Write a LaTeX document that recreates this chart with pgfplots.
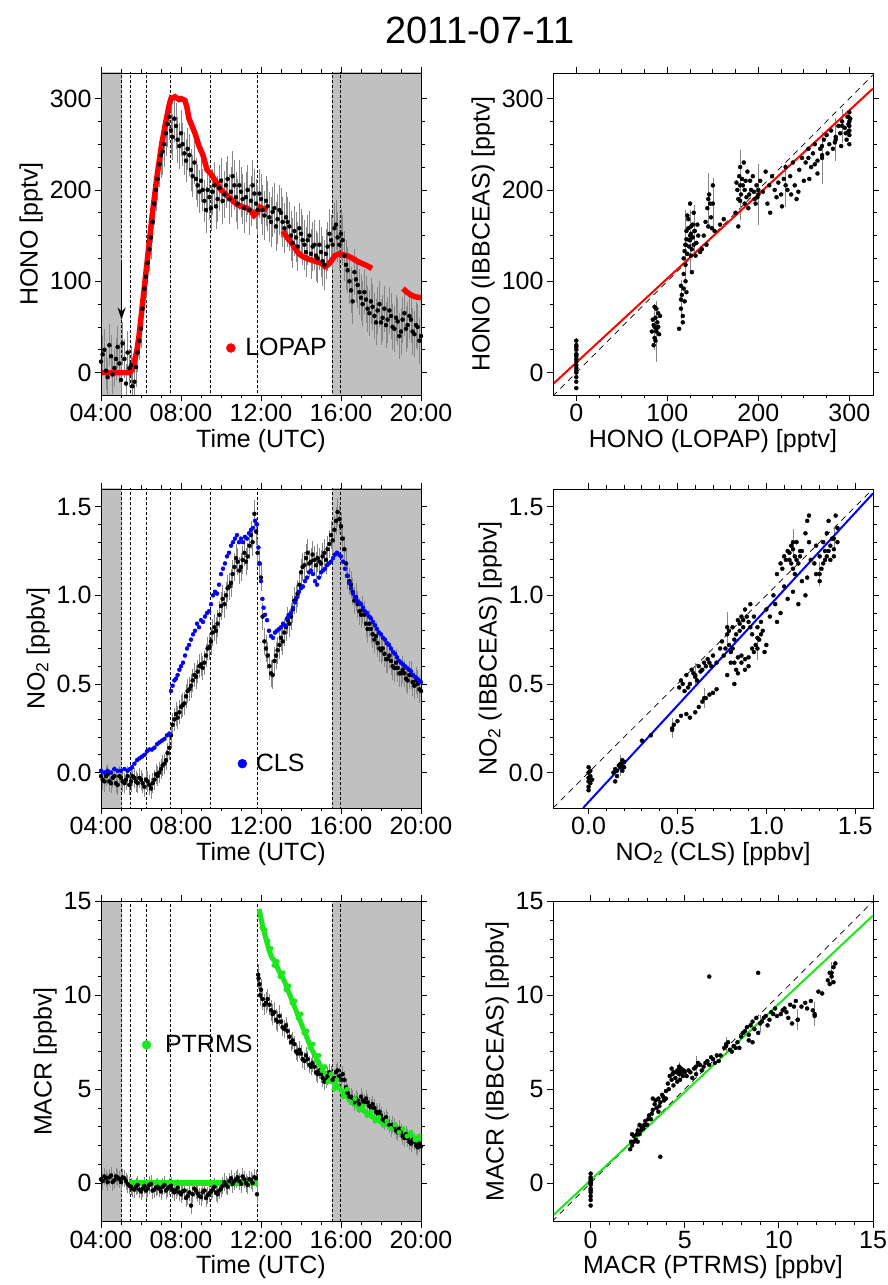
\documentclass[border=0pt]{standalone}
\usepackage{fontspec}
\setmainfont{Liberation Sans}
\usepackage{pgfplots}
\pgfplotsset{compat=1.18}
\usetikzlibrary{arrows.meta}

\definecolor{bggray}{RGB}{192,192,192}
\definecolor{ebgray}{RGB}{135,135,135}
\definecolor{lred}{RGB}{255,0,0}
\definecolor{lblue}{RGB}{0,0,255}
\definecolor{lgreen}{RGB}{30,230,30}

\newcommand{\lfont}{\fontsize{25}{30}\selectfont}
\tikzset{vl/.style={densely dashed, line width=0.5pt, black}}

\pgfplotsset{
 base/.style={scale only axis, width=320pt, axis on top, tick align=outside,
   tick label style={font=\lfont}, label style={font=\lfont},
   /pgf/number format/assume math mode=true,
   major tick length=6pt, minor tick length=3.5pt,
   every tick/.style={black, line width=0.8pt}, axis line style={line width=0.9pt},
   legend style={draw=none, fill=none, font=\lfont, inner sep=0pt, anchor=west},
 },
 tser/.style={base, xmin=4, xmax=20, xtick={4,8,12,16,20},
   xticklabels={04:00,08:00,12:00,16:00,20:00}, minor x tick num=3, xlabel={Time (UTC)}},
 blk/.style={only marks, mark=*, mark size=2pt, black, forget plot,
   error bars/.cd, y dir=both, y explicit,
   error bar style={ebgray, line width=0.6pt},
   error mark=-, error mark options={ebgray, mark size=3pt, line width=0.6pt}},
 sc/.style={only marks, mark=*, mark size=2pt, black, forget plot},
 dashln/.style={dashed, line width=0.7pt, black, forget plot},
}

\begin{document}
\begin{tikzpicture}[x=1pt,y=1pt]
\useasboundingbox (0,0) rectangle (887,1285);
\node[font=\fontsize{38}{42}\selectfont] at (480,1255) {2011-07-11};

%================ HONO time series
\begin{axis}[tser, at={(101pt,890pt)}, anchor=south west, height=322pt,
  ymin=-24.5, ymax=328, ytick={0,100,200,300}, minor y tick num=3,
  ylabel={HONO [pptv]},
  legend style={at={(0.391,0.146)}}]
\fill[bggray] (axis cs:3,-50) rectangle (axis cs:5.03,400);
\fill[bggray] (axis cs:15.55,-50) rectangle (axis cs:21,400);
\foreach \t in {5.03,5.45,6.25,7.48,9.45,11.82,15.55,15.95}{
  \edef\tmp{\noexpand\draw[vl] (axis cs:\t,-50) -- (axis cs:\t,400);}\tmp}
\addplot[blk] table[x index=0,y index=1,y error index=2] {
4.00 12 18
4.17 25 20
4.33 -5 18
4.50 18 20
4.67 5 18
4.83 28 20
5.00 -8 20
5.17 15 18
5.33 22 20
5.50 8 18
5.67 -10 18
5.83 22 18
6.00 48 18
6.17 92 18
6.33 120 20
6.50 148 20
6.67 185 20
6.83 212 20
7.00 238 22
7.17 250 22
7.33 272 22
7.50 265 22
7.67 278 22
7.83 255 22
8.00 262 22
8.17 240 20
8.33 245 20
8.50 222 20
8.67 230 20
8.83 205 20
9.00 210 20
9.17 188 20
9.33 200 22
9.50 180 22
9.67 205 22
9.83 190 22
10.00 210 22
10.17 195 22
10.33 212 22
10.50 198 24
10.67 205 24
10.83 185 24
11.00 198 24
11.17 180 24
11.33 200 24
11.50 188 24
11.67 196 24
11.83 178 24
12.00 190 24
12.17 172 24
12.33 182 24
12.50 165 24
12.67 180 24
12.83 168 24
13.00 175 24
13.17 158 24
13.33 165 24
13.50 150 24
13.67 155 24
13.83 138 24
14.00 152 24
14.17 140 24
14.33 145 24
14.50 130 24
14.67 140 24
14.83 125 24
15.00 132 24
15.17 118 24
15.33 138 24
15.50 145 24
15.67 158 24
15.83 148 24
16.00 152 24
16.17 128 24
16.33 112 22
16.50 90 22
16.67 110 22
16.83 96 22
17.00 82 22
17.17 88 22
17.33 70 22
17.50 78 22
17.67 62 22
17.83 68 22
18.00 55 22
18.17 70 22
18.33 58 22
18.50 62 22
18.67 48 22
18.83 56 22
19.00 45 22
19.17 65 22
19.33 52 22
19.50 58 22
19.67 42 22
19.83 50 22
20.00 40 22
};
\addplot[blk] table[x index=0,y index=1,y error index=2] {
4.08 20 18
4.25 2 18
4.42 30 20
4.58 -2 18
4.75 15 20
4.92 10 18
5.08 32 20
5.25 -12 18
5.42 5 18
5.58 -15 18
5.75 6 18
5.92 35 18
6.08 70 18
6.25 105 20
6.42 135 20
6.58 165 20
6.75 200 20
6.92 228 22
7.08 242 22
7.25 262 22
7.42 280 22
7.58 258 22
7.75 270 22
7.92 248 22
8.08 250 20
8.25 232 20
8.42 238 20
8.58 215 20
8.75 212 20
8.92 198 20
9.08 200 20
9.25 178 22
9.42 192 22
9.58 198 22
9.75 182 22
9.92 202 22
10.08 188 22
10.25 205 22
10.42 190 24
10.58 215 24
10.75 192 24
10.92 205 24
11.08 190 24
11.25 192 24
11.42 178 24
11.58 205 24
11.75 185 24
11.92 196 24
12.08 178 24
12.25 188 24
12.42 170 24
12.58 176 24
12.75 160 24
12.92 178 24
13.08 165 24
13.25 170 24
13.42 160 24
13.58 142 24
13.75 148 24
13.92 158 24
14.08 145 24
14.25 132 24
14.42 150 24
14.58 138 24
14.75 128 24
14.92 140 24
15.08 122 24
15.25 130 24
15.42 152 24
15.58 140 24
15.75 162 24
15.92 140 24
16.08 145 24
16.25 118 24
16.42 100 22
16.58 78 22
16.75 102 22
16.92 88 22
17.08 75 22
17.25 80 22
17.42 65 22
17.58 72 22
17.75 55 22
17.92 75 22
18.08 60 22
18.25 52 22
18.42 68 22
18.58 50 22
18.75 60 22
18.92 40 22
19.08 58 22
19.25 48 22
19.42 62 22
19.58 45 22
19.75 52 22
19.92 35 22
};
\addplot[lred, line width=5.5pt, forget plot] coordinates {
(4.00,0) (5.45,0) (5.55,3) (5.65,10) (5.8,25) (5.9,40) (6.1,80) (6.25,110) (6.4,140)
(6.6,180) (6.8,215) (7.0,245) (7.2,270) (7.4,292) (7.5,300) (7.7,302) (7.9,299) (8.0,300)
(8.2,298) (8.3,290) (8.4,278) (8.55,270) (8.7,262) (8.9,248) (9.1,238) (9.2,230) (9.3,222)
(9.45,219) (9.6,214) (9.8,207) (10.0,200) (10.2,196) (10.4,192) (10.6,188) (10.8,184)
(11.0,182) (11.3,180) (11.5,177) (11.65,172) (11.8,175) (11.95,181) (12.15,179) (12.3,178)};
\addplot[lred, line width=5.5pt, forget plot] coordinates {
(13.1,155) (13.3,148) (13.5,143) (13.7,136) (13.9,130) (14.1,127) (14.4,124) (14.7,122)
(15.0,120) (15.2,116) (15.35,118) (15.5,122) (15.7,128) (15.9,130) (16.1,129) (16.3,128)
(16.5,126) (16.8,122) (17.1,119) (17.3,117) (17.55,114)};
\addplot[lred, line width=5.5pt, forget plot] coordinates {
(19.1,92) (19.3,88) (19.5,85) (19.7,83) (20.0,82)};
\draw[-{Stealth[length=12pt,width=8pt]}, line width=1.6pt] (axis cs:5.03,120) -- (axis cs:5.03,58);
\addlegendimage{only marks, mark=*, mark size=4.5pt, lred}
\addlegendentry{\hspace{8pt}LOPAP}
\end{axis}

%================ HONO scatter
\begin{axis}[base, at={(553pt,890pt)}, anchor=south west, height=322pt,
  xmin=-25.6, xmax=326, ymin=-24.5, ymax=328,
  xtick={0,100,200,300}, ytick={0,100,200,300}, minor x tick num=3, minor y tick num=3,
  xlabel={HONO (LOPAP) [pptv]}, ylabel={HONO (IBBCEAS) [pptv]}]
\addplot[dashln, dash pattern=on 6pt off 5pt] coordinates {(-26,-26) (326,326)};
\addplot[blk] table[x index=0,y index=1,y error index=2] {
0 20 15
86 50 22
88 45 30
120 140 35
125 145 30
130 155 25
145 190 25
180 205 35
200 195 30
230 205 20
270 235 25
285 255 20
292 270 15
115 80 18
150 185 25
};
\addplot[sc] coordinates {
(0,-17)(0,-5)(0,2)(0,8)(0,12)(0,15)(0,20)(0,25)(0,30)(0,35)(0,5)(0,18)(0,28)(0,-10)(0,0)
(83,45)(85,52)(86,38)(87,60)(88,48)(89,55)(90,65)(91,42)(85,30)(88,70)(90,50)(84,58)(87,35)(92,62)(86,72)
(113,48)(115,70)(116,85)(117,62)(118,92)(119,78)(120,100)(117,55)(121,88)(115,95)
(118,125)(120,140)(121,155)(122,130)(123,168)(124,145)(125,150)(126,160)(127,135)(128,148)
(129,175)(130,155)(132,142)(133,162)(120,118)(125,185)(131,128)(134,150)(136,132)(127,110)
(140,150)(142,165)(144,180)(145,160)(146,195)(148,170)(150,205)(143,140)(147,185)(149,158)
(138,135)(152,155)(158,162)(162,168)
(175,175)(177,200)(178,190)(179,215)(180,225)(181,195)(183,205)(185,185)(186,210)(188,220)
(190,195)(192,200)(194,215)(196,190)(198,205)(200,200)(178,160)(184,230)(189,180)(197,185)
(202,210)(205,198)(208,220)(210,185)(212,205)(215,215)(218,200)(220,192)(222,208)(225,195)
(228,212)(230,225)(232,200)(235,215)(238,230)(240,205)(242,190)(245,222)(248,235)(250,210)
(213,175)(226,182)(236,195)(244,198)
(252,230)(255,245)(258,225)(260,240)(262,250)(265,232)(268,245)(270,238)(272,255)(275,260)
(278,250)(280,265)(282,245)(285,258)(288,270)(290,262)(292,275)(295,268)(298,280)(300,260)
(300,285)(300,250)(299,272)(297,255)(265,218)(256,212)(300,270)(301,278)(299,264)
(122,172)(124,138)(126,152)(128,162)(119,133)(121,146)(123,158)(126,128)(129,140)(118,108)
(182,212)(185,200)(187,192)(180,188)(176,208)(191,210)(195,198)(199,192)
(255,235)(262,228)(270,248)(276,240)(284,252)(291,248)(296,262)(300,275)(300,265)(299,280)
};
\addplot[lred, line width=2pt, forget plot] coordinates {(-26,-12.9) (326,311)};
\end{axis}

%================ NO2 time series
\begin{axis}[tser, at={(101pt,477pt)}, anchor=south west, height=319pt,
  ymin=-0.2, ymax=1.6, ytick={0,0.5,1,1.5}, minor y tick num=4,
  yticklabel style={/pgf/number format/.cd, fixed, fixed zerofill, precision=1},
  ylabel={NO\textsubscript{2} [ppbv]},
  legend style={at={(0.427,0.139)}}]
\fill[bggray] (axis cs:3,-1) rectangle (axis cs:5.03,2);
\fill[bggray] (axis cs:15.55,-1) rectangle (axis cs:21,2);
\foreach \t in {5.03,5.45,6.25,7.48,9.45,11.82,15.55,15.95}{
  \edef\tmp{\noexpand\draw[vl] (axis cs:\t,-1) -- (axis cs:\t,2);}\tmp}
\addplot[blk] table[x index=0,y index=1,y error index=2] {
4.00 -0.02 0.04
4.17 -0.05 0.04
4.33 -0.01 0.04
4.50 -0.06 0.04
4.67 -0.02 0.04
4.83 -0.07 0.04
5.00 -0.03 0.04
5.17 -0.06 0.04
5.33 -0.02 0.04
5.50 -0.05 0.04
5.67 -0.03 0.04
5.83 -0.06 0.04
6.00 -0.04 0.04
6.17 -0.08 0.04
6.33 -0.05 0.04
6.50 -0.09 0.04
6.67 -0.04 0.04
6.83 -0.02 0.04
7.00 0.02 0.04
7.17 0.05 0.04
7.33 0.11 0.04
7.50 0.21 0.05
7.67 0.30 0.05
7.83 0.31 0.05
8.00 0.37 0.05
8.17 0.39 0.05
8.33 0.46 0.05
8.50 0.49 0.05
8.67 0.55 0.05
8.83 0.57 0.05
9.00 0.61 0.05
9.17 0.62 0.05
9.33 0.70 0.05
9.50 0.74 0.06
9.67 0.82 0.06
9.83 0.84 0.06
10.00 0.94 0.06
10.17 0.95 0.06
10.33 1.04 0.06
10.50 1.07 0.06
10.67 1.16 0.06
10.83 1.19 0.06
11.00 1.16 0.06
11.17 1.24 0.06
11.33 1.22 0.06
11.50 1.34 0.06
11.67 1.46 0.06
11.83 1.24 0.06
12.00 1.10 0.06
12.17 0.74 0.06
12.33 0.66 0.06
12.50 0.56 0.06
12.67 0.63 0.06
12.83 0.69 0.06
13.00 0.76 0.06
13.17 0.79 0.06
13.33 0.86 0.06
13.50 0.88 0.06
13.67 0.97 0.06
13.83 1.01 0.06
14.00 1.13 0.06
14.17 1.17 0.06
14.33 1.24 0.06
14.50 1.19 0.06
14.67 1.20 0.06
14.83 1.21 0.06
15.00 1.18 0.06
15.17 1.24 0.06
15.33 1.26 0.06
15.50 1.34 0.06
15.67 1.37 0.06
15.83 1.47 0.06
16.00 1.39 0.06
16.17 1.26 0.06
16.33 1.11 0.06
16.50 1.06 0.06
16.67 0.97 0.06
16.83 0.95 0.06
17.00 0.89 0.06
17.17 0.89 0.06
17.33 0.81 0.06
17.50 0.81 0.06
17.67 0.75 0.06
17.83 0.73 0.06
18.00 0.69 0.06
18.17 0.67 0.06
18.33 0.64 0.06
18.50 0.63 0.06
18.67 0.59 0.06
18.83 0.59 0.06
19.00 0.56 0.06
19.17 0.56 0.06
19.33 0.52 0.06
19.50 0.55 0.06
19.67 0.49 0.06
19.83 0.50 0.06
20.00 0.46 0.06
};
\addplot[blk] table[x index=0,y index=1,y error index=2] {
4.08 -0.04 0.04
4.25 -0.02 0.04
4.42 -0.05 0.04
4.58 -0.03 0.04
4.75 -0.06 0.04
4.92 -0.02 0.04
5.08 -0.05 0.04
5.25 -0.04 0.04
5.42 -0.07 0.04
5.58 -0.02 0.04
5.75 -0.05 0.04
5.92 -0.03 0.04
6.08 -0.06 0.04
6.25 -0.04 0.04
6.42 -0.07 0.04
6.58 -0.06 0.04
6.75 -0.01 0.04
6.92 0.00 0.04
7.08 0.04 0.04
7.25 0.07 0.04
7.42 0.14 0.05
7.58 0.27 0.05
7.75 0.33 0.05
7.92 0.34 0.05
8.08 0.38 0.05
8.25 0.43 0.05
8.42 0.47 0.05
8.58 0.52 0.05
8.75 0.54 0.05
8.92 0.60 0.05
9.08 0.59 0.05
9.25 0.66 0.05
9.42 0.71 0.06
9.58 0.79 0.06
9.75 0.80 0.06
9.92 0.89 0.06
10.08 0.98 0.06
10.25 1.00 0.06
10.42 1.05 0.06
10.58 1.12 0.06
10.75 1.21 0.06
10.92 1.14 0.06
11.08 1.20 0.06
11.25 1.19 0.06
11.42 1.28 0.06
11.58 1.30 0.06
11.75 1.36 0.06
11.92 1.18 0.06
12.08 0.88 0.06
12.25 0.70 0.06
12.42 0.60 0.06
12.58 0.55 0.06
12.75 0.66 0.06
12.92 0.72 0.06
13.08 0.74 0.06
13.25 0.82 0.06
13.42 0.84 0.06
13.58 0.92 0.06
13.75 0.98 0.06
13.92 1.06 0.06
14.08 1.16 0.06
14.25 1.21 0.06
14.42 1.18 0.06
14.58 1.23 0.06
14.75 1.17 0.06
14.92 1.19 0.06
15.08 1.22 0.06
15.25 1.20 0.06
15.42 1.29 0.06
15.58 1.31 0.06
15.75 1.42 0.06
15.92 1.43 0.06
16.08 1.32 0.06
16.25 1.18 0.06
16.42 1.08 0.06
16.58 1.02 0.06
16.75 0.99 0.06
16.92 0.91 0.06
17.08 0.92 0.06
17.25 0.84 0.06
17.42 0.84 0.06
17.58 0.78 0.06
17.75 0.77 0.06
17.92 0.70 0.06
18.08 0.70 0.06
18.25 0.64 0.06
18.42 0.66 0.06
18.58 0.60 0.06
18.75 0.62 0.06
18.92 0.56 0.06
19.08 0.58 0.06
19.25 0.53 0.06
19.42 0.55 0.06
19.58 0.51 0.06
19.75 0.52 0.06
19.92 0.47 0.06
};
\addplot[only marks, mark=*, mark size=2pt, lblue, forget plot] coordinates {
(4.00,0.01)(4.17,0.0)(4.33,0.01)(4.50,0.0)(4.67,0.02)(4.83,0.01)(5.00,0.01)(5.17,0.02)(5.33,0.01)
(5.45,0.02)(5.55,0.03)(5.67,0.05)(5.8,0.07)(5.92,0.08)(6.05,0.09)(6.17,0.1)(6.3,0.12)(6.42,0.13)
(6.55,0.13)(6.67,0.14)(6.8,0.16)(6.92,0.17)(7.05,0.18)(7.17,0.19)(7.3,0.21)(7.42,0.22)(7.5,0.46)
(7.58,0.49)(7.67,0.52)(7.75,0.53)(7.83,0.55)(7.92,0.58)(8.0,0.60)(8.1,0.62)(8.2,0.66)(8.3,0.70)
(8.4,0.72)(8.5,0.75)(8.6,0.78)(8.7,0.80)(8.8,0.84)(8.9,0.82)(9.0,0.86)(9.1,0.85)(9.2,0.88)
(9.3,0.90)(9.4,0.91)(9.5,0.95)(9.6,1.0)(9.7,1.02)(9.8,1.01)(9.9,1.06)(10.0,1.12)(10.1,1.15)
(10.2,1.18)(10.3,1.22)(10.4,1.24)(10.5,1.28)(10.6,1.30)(10.7,1.32)(10.8,1.34)(10.9,1.30)
(11.0,1.32)(11.1,1.30)(11.2,1.33)(11.3,1.32)(11.4,1.35)(11.5,1.37)(11.6,1.38)(11.7,1.42)
(11.8,1.40)(11.87,1.27)(11.93,1.18)(12.0,1.08)(12.07,0.98)(12.13,0.93)(12.2,0.89)(12.3,0.86)
(12.4,0.80)(12.5,0.77)(12.6,0.76)(12.7,0.79)(12.8,0.80)(12.9,0.81)(13.0,0.82)(13.1,0.84)
(13.2,0.83)(13.3,0.87)(13.4,0.89)(13.5,0.90)(13.6,0.93)(13.7,0.96)(13.8,0.99)(13.9,1.02)
(14.0,1.04)(14.1,1.05)(14.2,1.08)(14.3,1.10)(14.4,1.13)(14.5,1.14)(14.6,1.12)(14.7,1.08)
(14.8,1.06)(14.9,1.10)(15.0,1.13)(15.1,1.14)(15.2,1.15)(15.3,1.17)(15.4,1.18)(15.5,1.19)
(15.6,1.21)(15.7,1.23)(15.8,1.24)(15.9,1.23)(16.0,1.22)(16.1,1.19)(16.2,1.15)(16.3,1.11)
(16.4,1.07)(16.5,1.04)(16.6,1.01)(16.7,0.99)(16.8,0.97)(16.9,0.96)(17.0,0.95)(17.1,0.93)
(17.2,0.91)(17.3,0.90)(17.4,0.88)(17.5,0.87)(17.6,0.85)(17.7,0.83)(17.8,0.81)(17.9,0.79)
(18.0,0.78)(18.1,0.76)(18.2,0.75)(18.3,0.73)(18.4,0.72)(18.5,0.70)(18.6,0.68)(18.7,0.67)
(18.8,0.65)(18.9,0.63)(19.0,0.62)(19.1,0.61)(19.2,0.60)(19.3,0.59)(19.4,0.58)(19.5,0.57)
(19.6,0.55)(19.7,0.54)(19.8,0.53)(19.9,0.52)(20.0,0.51)};
\addlegendimage{only marks, mark=*, mark size=4.5pt, lblue}
\addlegendentry{\hspace{7pt}CLS}
\end{axis}

%================ NO2 scatter
\begin{axis}[base, at={(553pt,477pt)}, anchor=south west, height=319pt,
  xmin=-0.2, xmax=1.6, ymin=-0.2, ymax=1.6,
  xtick={0,0.5,1,1.5}, ytick={0,0.5,1,1.5}, minor x tick num=4, minor y tick num=4,
  xticklabel style={/pgf/number format/.cd, fixed, fixed zerofill, precision=1},
  yticklabel style={/pgf/number format/.cd, fixed, fixed zerofill, precision=1},
  xlabel={NO\textsubscript{2} (CLS) [ppbv]}, ylabel={NO\textsubscript{2} (IBBCEAS) [ppbv]}]
\addplot[dashln, dash pattern=on 6pt off 5pt] coordinates {(-0.2,-0.2) (1.6,1.6)};
\addplot[blk] table[x index=0,y index=1,y error index=2] {
0.47 0.25 0.04
0.60 0.55 0.05
0.78 0.82 0.07
0.95 0.70 0.05
1.15 1.30 0.06
1.30 1.12 0.05
0.65 0.42 0.04
1.38 1.32 0.05
0.18 0.04 0.04
};
\addplot[sc] coordinates {
(0,-0.08)(0,-0.05)(0,-0.03)(0,0.0)(0,0.03)(0.01,-0.06)(0.01,-0.02)(0.01,0.01)(0.02,-0.04)(0.0,-0.1)
(0.14,0.0)(0.15,0.02)(0.16,-0.02)(0.17,0.04)(0.18,0.05)(0.19,0.07)(0.2,0.06)(0.16,0.01)(0.18,0.03)
(0.15,-0.05)(0.2,0.03)(0.19,0.01)(0.35,0.21)(0.3,0.18)
(0.47,0.24)(0.48,0.27)(0.5,0.29)(0.52,0.32)(0.55,0.33)(0.57,0.31)(0.6,0.34)(0.62,0.37)(0.64,0.40)
(0.66,0.42)(0.68,0.44)(0.7,0.45)(0.72,0.47)
(0.51,0.48)(0.52,0.52)(0.54,0.46)(0.55,0.55)(0.57,0.50)(0.58,0.58)(0.6,0.54)(0.62,0.60)(0.63,0.57)
(0.65,0.62)(0.67,0.64)(0.69,0.60)(0.7,0.66)
(0.72,0.62)(0.74,0.70)(0.75,0.74)(0.76,0.66)(0.78,0.78)(0.79,0.72)(0.8,0.68)(0.81,0.82)(0.82,0.75)
(0.83,0.58)(0.84,0.86)(0.85,0.80)(0.78,0.55)(0.8,0.62)(0.82,0.5)(0.86,0.62)(0.88,0.58)(0.84,0.65)
(0.86,0.88)(0.87,0.82)(0.88,0.92)(0.9,0.85)(0.91,0.95)(0.92,0.78)(0.93,0.88)(0.94,0.72)(0.95,0.82)
(0.9,0.65)(0.93,0.68)
(0.96,0.75)(0.97,0.85)(0.98,0.80)(1.0,0.92)(1.02,0.88)(1.04,1.0)(1.05,0.95)(1.0,0.72)(0.99,0.68)
(1.06,1.12)(1.08,1.18)(1.1,1.22)(1.12,1.25)(1.13,1.2)(1.14,1.28)(1.15,1.15)(1.16,1.22)(1.17,1.3)
(1.18,1.18)(1.19,1.25)(1.1,1.05)(1.12,0.98)(1.15,1.02)(1.18,0.95)(1.2,1.08)(1.2,1.25)(1.08,0.9)(1.06,0.85)
(1.22,1.35)(1.23,1.42)(1.24,1.45)(1.24,1.3)(1.25,1.2)(1.22,1.0)(1.23,1.1)
(1.27,1.18)(1.28,1.12)(1.3,1.22)(1.31,1.15)(1.32,1.3)(1.33,1.2)(1.34,1.35)(1.35,1.25)(1.36,1.28)
(1.37,1.32)(1.38,1.22)(1.4,1.3)(1.39,1.45)(1.4,1.38)(1.35,1.42)(1.3,1.08)(1.28,1.28)
(0.53,0.50)(0.56,0.48)(0.59,0.56)(0.61,0.52)(0.64,0.58)(0.66,0.60)(0.68,0.62)
(0.77,0.70)(0.79,0.80)(0.81,0.70)(0.83,0.78)(0.85,0.84)(0.87,0.86)(0.89,0.88)(0.91,0.82)
(0.82,0.62)(0.84,0.56)(0.86,0.66)(0.88,0.64)(0.9,0.60)(0.92,0.70)(0.95,0.76)(0.97,0.78)
(1.09,1.15)(1.11,1.2)(1.13,1.24)(1.15,1.26)(1.17,1.2)(1.19,1.22)(1.14,1.18)(1.16,1.12)
(1.32,1.18)(1.34,1.22)(1.36,1.2)(1.38,1.26)(1.33,1.25)
};
\addplot[lblue, line width=2pt, forget plot] coordinates {(-0.031,-0.2) (1.6,1.575)};
\end{axis}

%================ MACR time series
\begin{axis}[tser, at={(101pt,63.5pt)}, anchor=south west, height=320pt,
  ymin=-2.05, ymax=15, ytick={0,5,10,15}, minor y tick num=4,
  ylabel={MACR [ppbv]},
  legend style={at={(0.1275,0.552)}}]
\fill[bggray] (axis cs:3,-5) rectangle (axis cs:5.03,20);
\fill[bggray] (axis cs:15.55,-5) rectangle (axis cs:21,20);
\foreach \t in {5.03,5.45,6.25,7.48,9.45,11.82,15.55,15.95}{
  \edef\tmp{\noexpand\draw[vl] (axis cs:\t,-5) -- (axis cs:\t,20);}\tmp}
\addplot[blk] table[x index=0,y index=1,y error index=2] {
4.00 0.2 0.3
4.17 0.35 0.3
4.33 0.05 0.3
4.50 0.4 0.3
4.67 0.15 0.3
4.83 0.3 0.3
5.00 0.05 0.3
5.17 0.25 0.3
5.33 -0.05 0.3
5.50 -0.2 0.3
5.67 -0.35 0.3
5.83 -0.1 0.3
6.00 -0.45 0.3
6.17 -0.15 0.3
6.33 -0.3 0.3
6.50 -0.05 0.3
6.67 -0.35 0.3
6.83 -0.2 0.3
7.00 -0.45 0.3
7.17 -0.1 0.3
7.33 -0.3 0.3
7.50 -0.15 0.3
7.67 -0.5 0.3
7.83 -0.25 0.3
8.00 -0.6 0.3
8.17 -0.4 0.3
8.33 -0.7 0.3
8.50 -1.2 0.3
8.67 -0.3 0.3
8.83 -0.55 0.3
9.00 -0.75 0.3
9.17 -0.4 0.3
9.33 -0.65 0.3
9.50 -0.45 0.3
9.67 -0.2 0.3
9.83 -0.6 0.3
10.00 -0.3 0.3
10.17 0.05 0.3
10.33 -0.2 0.3
10.50 0.25 0.3
10.67 0.1 0.3
10.83 0.3 0.3
11.00 -0.05 0.3
11.17 0.2 0.3
11.33 -0.1 0.3
11.50 0.15 0.3
11.67 0.3 0.3
11.80 -0.6 0.3
11.86 11.1 0.4
11.92 10.6 0.4
12.00 10.3 0.4
12.17 9.5 0.4
12.33 9.8 0.4
12.50 9.2 0.4
12.67 9.1 0.4
12.83 8.6 0.4
13.00 8.6 0.3
13.17 8.2 0.3
13.33 8.1 0.3
13.50 7.5 0.3
13.67 7.4 0.3
13.83 6.9 0.3
14.00 6.9 0.3
14.17 6.5 0.3
14.33 6.6 0.3
14.50 6.2 0.3
14.67 6.2 0.3
14.83 5.8 0.3
15.00 5.8 0.3
15.17 5.4 0.3
15.33 5.7 0.3
15.50 5.8 0.3
15.67 5.6 0.3
15.83 6.0 0.3
16.00 5.5 0.3
16.17 5.5 0.3
16.33 4.8 0.3
16.50 4.6 0.3
16.67 4.3 0.3
16.83 4.4 0.3
17.00 4.6 0.3
17.17 4.3 0.3
17.33 4.3 0.3
17.50 4.0 0.3
17.67 4.0 0.3
17.83 3.7 0.3
18.00 3.6 0.3
18.17 3.3 0.3
18.33 3.3 0.3
18.50 2.9 0.3
18.67 3.0 0.3
18.83 2.7 0.3
19.00 2.7 0.3
19.17 2.4 0.3
19.33 2.4 0.3
19.50 2.1 0.3
19.67 2.2 0.3
19.83 1.9 0.3
20.00 1.95 0.3
};
\addplot[blk] table[x index=0,y index=1,y error index=2] {
4.08 0.1 0.3
4.25 0.25 0.3
4.42 0.3 0.3
4.58 0.05 0.3
4.75 0.35 0.3
4.92 0.2 0.3
5.08 0.3 0.3
5.25 0.1 0.3
5.42 -0.15 0.3
5.58 -0.3 0.3
5.75 -0.2 0.3
5.92 -0.35 0.3
6.08 -0.3 0.3
6.25 -0.4 0.3
6.42 -0.1 0.3
6.58 -0.4 0.3
6.75 -0.25 0.3
6.92 -0.3 0.3
7.08 -0.2 0.3
7.25 -0.4 0.3
7.42 -0.2 0.3
7.58 -0.35 0.3
7.75 -0.4 0.3
7.92 -0.5 0.3
8.08 -0.45 0.3
8.25 -0.8 0.3
8.42 -0.5 0.3
8.58 -0.6 0.3
8.75 -0.4 0.3
8.92 -0.7 0.3
9.08 -0.5 0.3
9.25 -0.8 0.3
9.42 -0.55 0.3
9.58 -0.35 0.3
9.75 -0.5 0.3
9.92 -0.4 0.3
10.08 -0.15 0.3
10.25 -0.1 0.3
10.42 0.1 0.3
10.58 -0.05 0.3
10.75 0.2 0.3
10.92 0.1 0.3
11.08 0.35 0.3
11.25 0.0 0.3
11.42 0.2 0.3
11.58 0.0 0.3
11.75 0.25 0.3
11.88 10.9 0.4
11.96 10.0 0.4
12.08 9.8 0.4
12.25 9.6 0.4
12.42 9.5 0.4
12.58 9.0 0.4
12.75 8.7 0.4
12.92 8.9 0.4
13.08 8.3 0.3
13.25 8.4 0.3
13.42 7.8 0.3
13.58 7.6 0.3
13.75 7.0 0.3
13.92 7.1 0.3
14.08 6.6 0.3
14.25 6.8 0.3
14.42 6.3 0.3
14.58 6.4 0.3
14.75 5.9 0.3
14.92 6.0 0.3
15.08 5.6 0.3
15.25 5.5 0.3
15.42 5.9 0.3
15.58 5.5 0.3
15.75 5.9 0.3
15.92 5.7 0.3
16.08 5.8 0.3
16.25 5.1 0.3
16.42 4.6 0.3
16.58 4.5 0.3
16.75 4.5 0.3
16.92 4.2 0.3
17.08 4.4 0.3
17.25 4.5 0.3
17.42 4.1 0.3
17.58 4.2 0.3
17.75 3.8 0.3
17.92 3.8 0.3
18.08 3.4 0.3
18.25 3.5 0.3
18.42 3.1 0.3
18.58 3.1 0.3
18.75 2.8 0.3
18.92 2.9 0.3
19.08 2.5 0.3
19.25 2.6 0.3
19.42 2.2 0.3
19.58 2.3 0.3
19.75 2.0 0.3
19.92 2.1 0.3
};
\addplot[lgreen, line width=6pt, forget plot] coordinates {(5.45,0) (11.83,0)};
\addplot[lgreen, line width=5pt, forget plot] coordinates {
(11.9,14.6)(12.0,14.1)(12.1,13.6)(12.25,13.0)(12.4,12.4)(12.55,12.0)(12.7,11.8)(12.85,11.4)
(13.0,11.1)(13.15,10.8)(13.3,10.4)(13.45,10.0)(13.6,9.6)(13.75,9.2)(13.9,8.8)(14.05,8.4)
(14.2,8.0)(14.35,7.6)(14.5,7.2)(14.65,6.9)(14.8,6.6)(14.95,6.3)(15.1,6.0)(15.25,5.7)
(15.4,5.5)(15.55,5.4)(15.7,5.3)(15.85,5.1)(16.0,4.95)(16.2,4.75)(16.4,4.5)(16.6,4.3)
(16.8,4.1)(17.0,3.95)(17.2,3.8)(17.4,3.65)(17.6,3.5)(17.8,3.4)(18.0,3.25)(18.2,3.15)
(18.4,3.05)(18.6,2.95)(18.8,2.85)(19.0,2.75)(19.2,2.65)(19.4,2.55)(19.6,2.45)(19.8,2.35)(20.0,2.3)};
\addplot[only marks, mark=*, mark size=2.3pt, lgreen, forget plot] coordinates {
(12.05,13.6)(12.2,13.5)(12.35,12.9)(12.5,12.5)(12.65,11.6)(12.8,11.8)(12.95,11.0)(13.1,11.2)
(13.25,10.3)(13.4,10.5)(13.55,9.6)(13.7,9.7)(13.85,8.8)(14.0,9.0)(14.15,8.0)(14.3,8.1)
(14.45,7.2)(14.6,7.4)(14.75,6.5)(14.9,6.8)(15.05,6.0)(15.2,6.2)(15.35,5.4)(15.5,5.8)
(15.65,5.0)(15.8,5.5)(16.1,4.6)(16.3,5.0)(16.5,4.3)(16.7,4.5)(16.9,3.9)(17.1,4.1)
(17.3,3.6)(17.5,3.8)(17.7,3.3)(17.9,3.5)(18.1,3.1)(18.3,3.3)(18.5,2.9)(18.7,3.1)
(18.9,2.7)(19.1,2.9)(19.3,2.5)(19.5,2.7)(19.7,2.3)(19.9,2.5)};
\addlegendimage{only marks, mark=*, mark size=4.5pt, lgreen}
\addlegendentry{\hspace{12pt}PTRMS}
\end{axis}

%================ MACR scatter
\begin{axis}[base, at={(553pt,63.5pt)}, anchor=south west, height=320pt,
  xmin=-2, xmax=15, ymin=-2.05, ymax=15,
  xtick={0,5,10,15}, ytick={0,5,10,15}, minor x tick num=4, minor y tick num=4,
  xlabel={MACR (PTRMS) [ppbv]}, ylabel={MACR (IBBCEAS) [ppbv]}]
\addplot[dashln, dash pattern=on 6pt off 5pt] coordinates {(-2.05,-2.05) (15,15)};
\addplot[blk] table[x index=0,y index=1,y error index=2] {
2.5 2.6 0.3
4.7 6.0 0.3
5.6 6.2 0.4
7.2 7.3 0.3
9.0 8.5 0.3
11.0 8.7 0.4
11.9 9.0 0.5
12.8 11.2 0.4
0 0.0 0.5
};
\addplot[sc] coordinates {
(0,-1.2)(0,-0.9)(0,-0.7)(0,-0.5)(0,-0.3)(0,-0.1)(0,0.1)(0,0.3)(0,0.5)(0,0.0)(0,-0.4)(0,0.2)
(2.1,1.8)(2.15,2.2)(2.2,2.0)(2.3,2.5)(2.4,2.3)(2.5,2.8)(2.6,2.6)(2.7,3.0)(2.8,2.9)(2.9,3.3)
(3.0,3.1)(2.2,2.6)(2.5,2.2)(2.6,3.1)
(3.1,3.6)(3.2,3.4)(3.3,3.9)(3.4,4.2)(3.5,4.0)(3.6,4.5)(3.7,4.3)(3.8,4.7)(3.9,4.4)(3.7,1.4)(3.3,4.5)(3.6,3.8)
(4.0,4.9)(4.1,5.3)(4.2,5.7)(4.3,5.5)(4.4,5.9)(4.5,5.6)(4.6,6.0)(4.7,5.8)(4.8,6.1)(4.9,5.7)
(5.0,5.9)(4.4,5.2)(4.7,6.2)(4.0,4.5)
(5.1,5.7)(5.3,5.9)(5.5,6.1)(5.6,5.8)(5.8,6.3)(5.9,6.0)(5.4,5.6)(5.7,6.4)
(6.0,6.2)(6.2,6.5)(6.3,6.3)(6.4,6.7)(6.5,6.6)(6.7,6.8)(6.8,6.5)(6.3,11.0)
(7.1,7.2)(7.2,7.4)(7.4,7.1)(7.6,7.3)(7.8,7.5)(7.9,7.2)(7.5,7.0)
(8.0,7.8)(8.2,8.1)(8.4,7.9)(8.5,8.4)(8.6,8.6)(8.7,8.2)(8.8,8.8)(8.9,8.0)(8.9,11.2)(8.4,7.6)(8.6,7.5)
(9.1,8.6)(9.3,8.9)(9.5,8.7)(9.6,9.1)(9.8,9.3)(9.9,8.9)(9.4,8.4)
(10.1,9.0)(10.3,9.3)(10.4,9.1)(10.6,9.5)(10.8,9.4)(10.9,9.7)(10.5,8.8)(10.7,8.5)
(11.0,8.7)(11.2,9.4)(11.4,9.6)(11.5,9.3)(11.7,9.7)(11.8,9.2)(11.9,8.9)(12.1,10.2)(12.3,10.1)
(12.6,10.8)(12.7,10.6)(12.8,11.0)(12.9,11.5)(13.0,11.7)(12.7,11.2)(12.9,10.7)
(2.3,2.2)(2.45,2.6)(2.65,2.8)(2.85,3.1)(3.05,3.4)(3.25,3.7)(3.45,4.4)(3.65,4.1)(3.85,4.6)
(4.15,5.0)(4.35,5.8)(4.55,5.9)(4.75,5.5)(4.95,6.0)(4.3,6.1)(4.6,5.4)(4.8,5.9)(5.2,6.0)
(6.1,6.4)(6.6,6.4)(6.9,6.8)(7.3,7.5)(7.7,7.2)(8.1,8.0)(8.3,8.3)(9.2,8.8)(9.7,9.0)(10.2,9.2)
};
\addplot[lgreen, line width=2pt, forget plot] coordinates {(-2,-1.73) (15,14.25)};
\end{axis}
\end{tikzpicture}
\end{document}
